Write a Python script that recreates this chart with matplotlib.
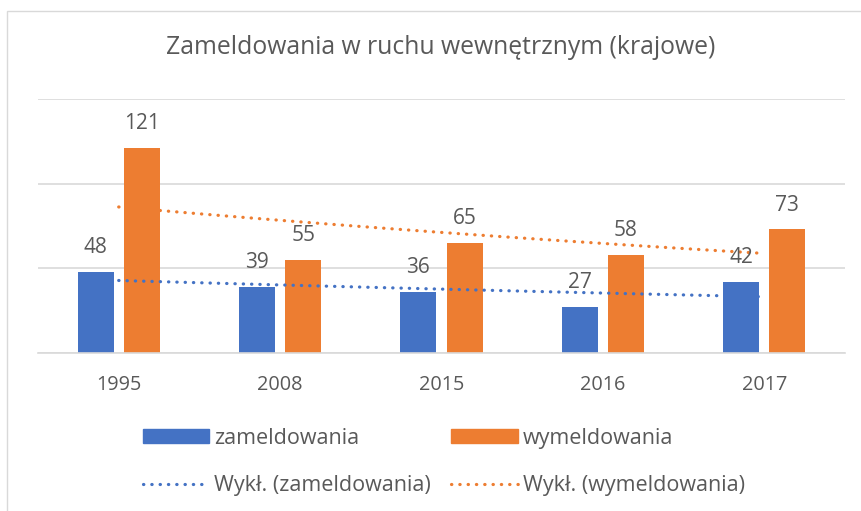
import numpy as np
import matplotlib
matplotlib.use("Agg")
import matplotlib.pyplot as plt
from matplotlib.patches import Patch, Rectangle
from matplotlib.lines import Line2D

plt.rcParams['font.family'] = ['Open Sans', 'DejaVu Sans']

years = ["1995", "2008", "2015", "2016", "2017"]
zameldowania = [48, 39, 36, 27, 42]
wymeldowania = [121, 55, 65, 58, 73]
title = "Zameldowania w ruchu wewnętrznym (krajowe)"

BLUE = "#4472C4"
ORANGE = "#ED7D31"
TXT = "#595959"
GRID = "#D9D9D9"

fig = plt.figure(figsize=(8.62, 5.11), dpi=100)
W, H = 862, 511
ax = fig.add_axes([38 / W, 1 - 353 / H, (845 - 38) / W, (353 - 99) / H])

x = np.arange(len(years))
bw = 0.224
off = 0.143
b1 = ax.bar(x - off, zameldowania, bw, color=BLUE, zorder=2)
b2 = ax.bar(x + off, wymeldowania, bw, color=ORANGE, zorder=2)

for bars, vals in ((b1, zameldowania), (b2, wymeldowania)):
    for r, v in zip(bars, vals):
        ax.annotate(str(v), (r.get_x() + r.get_width() / 2, v), xytext=(0, 17.5),
                    textcoords="offset points", ha="center", va="center",
                    fontsize=15, color=TXT, zorder=4)

# exponential trendlines (least squares on log values, as Excel does)
xt = x + 1
for vals, col in ((zameldowania, BLUE), (wymeldowania, ORANGE)):
    k, c = np.polyfit(xt, np.log(vals), 1)
    xs = np.linspace(xt[0], xt[-1], 50)
    ax.plot(xs - 1, np.exp(c + k * xs), color=col, lw=2.3,
            linestyle=(0, (0.1, 2.5)), dash_capstyle="round", zorder=3)

ax.set_xlim(-0.5, len(years) - 0.5)
ax.set_ylim(0, 150)
ax.set_yticks([0, 50, 100, 150])
ax.yaxis.grid(True, color=GRID, lw=1.2, zorder=0)
ax.tick_params(axis="y", left=False, labelleft=False)
ax.set_xticks(x)
ax.set_xticklabels(years, fontsize=14.3, color=TXT)
ax.tick_params(axis="x", length=0, pad=16)
for s in ("top", "right", "left"):
    ax.spines[s].set_visible(False)
ax.spines["bottom"].set_color(GRID)
ax.spines["bottom"].set_linewidth(1.2)

fig.text(441 / W, 1 - 48 / H, title, ha="center", va="center",
         fontsize=17.8, color=TXT)

ls = (0, (0.1, 2.5))
handles = [Patch(color=BLUE), Line2D([], [], color=BLUE, lw=2.3, linestyle=ls, dash_capstyle="round"),
           Patch(color=ORANGE), Line2D([], [], color=ORANGE, lw=2.3, linestyle=ls, dash_capstyle="round")]
labels = ["zameldowania", "Wykł. (zameldowania)", "wymeldowania", "Wykł. (wymeldowania)"]
leg = fig.legend(handles, labels, ncol=2, loc="center left",
                 bbox_to_anchor=(134 / W, 1 - 462 / H), frameon=False, borderaxespad=0,
                 fontsize=15.5, labelcolor=TXT, handlelength=3.1, handleheight=0.6,
                 handletextpad=0.23, columnspacing=0.93, labelspacing=1.24)

fig.add_artist(Rectangle((7 / W, -0.1), 1.2, 1 - 11 / H + 0.1, transform=fig.transFigure,
                         fill=False, edgecolor=GRID, lw=1))

fig.savefig("out.png", dpi=100)
